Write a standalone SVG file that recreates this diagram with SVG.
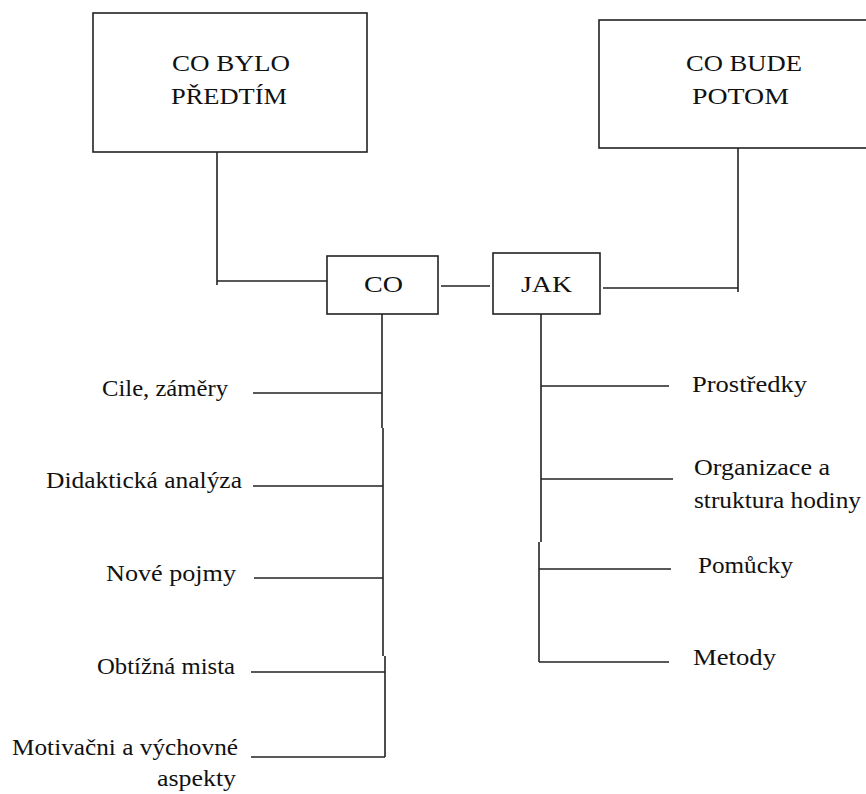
<svg xmlns="http://www.w3.org/2000/svg" width="866" height="794" viewBox="0 0 866 794">
<style>
.box{fill:#fff;stroke:#222;stroke-width:1.6}
.ln{stroke:#222;stroke-width:1.6;fill:none}
</style>
<rect width="866" height="794" fill="#fff"/>
<g id="connectors">
<polyline class="ln" points="217,152 217,285"/>
<line class="ln" x1="217" y1="281" x2="327" y2="281"/>
<line class="ln" x1="441" y1="286" x2="490" y2="286"/>
<polyline class="ln" points="738,148 738,292"/>
<line class="ln" x1="603" y1="288" x2="738" y2="288"/>
<line class="ln" x1="382" y1="314" x2="382" y2="428"/>
<line class="ln" x1="383" y1="428" x2="383" y2="656"/>
<line class="ln" x1="385" y1="656" x2="385" y2="757"/>
<line class="ln" x1="253" y1="393" x2="382" y2="393"/>
<line class="ln" x1="253" y1="486" x2="383" y2="486"/>
<line class="ln" x1="254" y1="578" x2="383" y2="578"/>
<line class="ln" x1="251" y1="672" x2="385" y2="672"/>
<line class="ln" x1="251" y1="757" x2="385" y2="757"/>
<line class="ln" x1="541" y1="314" x2="541" y2="542"/>
<line class="ln" x1="539" y1="542" x2="539" y2="662"/>
<line class="ln" x1="541" y1="386" x2="669" y2="386"/>
<line class="ln" x1="541" y1="479" x2="673" y2="479"/>
<line class="ln" x1="539" y1="569" x2="671" y2="569"/>
<line class="ln" x1="539" y1="662" x2="669" y2="662"/>
</g>
<g font-family="Liberation Serif, DejaVu Serif, serif" font-size="24" fill="#111">
<g id="node-predtim">
<rect class="box" x="93" y="13" width="274" height="139"/>
<text x="172" y="71" textLength="118" lengthAdjust="spacingAndGlyphs">CO BYLO</text>
<text x="171" y="104" textLength="116" lengthAdjust="spacingAndGlyphs">PŘEDTÍM</text>
</g>
<g id="node-potom">
<rect class="box" x="599" y="20" width="280" height="128"/>
<text x="686" y="71" textLength="116" lengthAdjust="spacingAndGlyphs">CO BUDE</text>
<text x="692" y="104" textLength="97" lengthAdjust="spacingAndGlyphs">POTOM</text>
</g>
<g id="node-co">
<rect class="box" x="327" y="256" width="111" height="58"/>
<text x="364" y="292" textLength="39" lengthAdjust="spacingAndGlyphs">CO</text>
</g>
<g id="node-jak">
<rect class="box" x="493" y="253" width="107" height="61"/>
<text x="521" y="292" textLength="51" lengthAdjust="spacingAndGlyphs">JAK</text>
</g>
<g id="node-cile"><text x="102" y="396" textLength="126" lengthAdjust="spacingAndGlyphs">Cile, záměry</text></g>
<g id="node-didakticka"><text x="46" y="488" textLength="196" lengthAdjust="spacingAndGlyphs">Didaktická analýza</text></g>
<g id="node-pojmy"><text x="106" y="581" textLength="130" lengthAdjust="spacingAndGlyphs">Nové pojmy</text></g>
<g id="node-obtizna"><text x="97" y="674" textLength="138" lengthAdjust="spacingAndGlyphs">Obtížná mista</text></g>
<g id="node-motivacni">
<text x="12" y="755" textLength="226" lengthAdjust="spacingAndGlyphs">Motivačni a výchovné</text>
<text x="157" y="786" textLength="79" lengthAdjust="spacingAndGlyphs">aspekty</text>
</g>
<g id="node-prostredky"><text x="692" y="392" textLength="115" lengthAdjust="spacingAndGlyphs">Prostředky</text></g>
<g id="node-organizace">
<text x="694" y="475" textLength="136" lengthAdjust="spacingAndGlyphs">Organizace a</text>
<text x="694" y="508" textLength="167" lengthAdjust="spacingAndGlyphs">struktura hodiny</text>
</g>
<g id="node-pomucky"><text x="698" y="573" textLength="95" lengthAdjust="spacingAndGlyphs">Pomůcky</text></g>
<g id="node-metody"><text x="693" y="665" textLength="83" lengthAdjust="spacingAndGlyphs">Metody</text></g>
</g>
</svg>
